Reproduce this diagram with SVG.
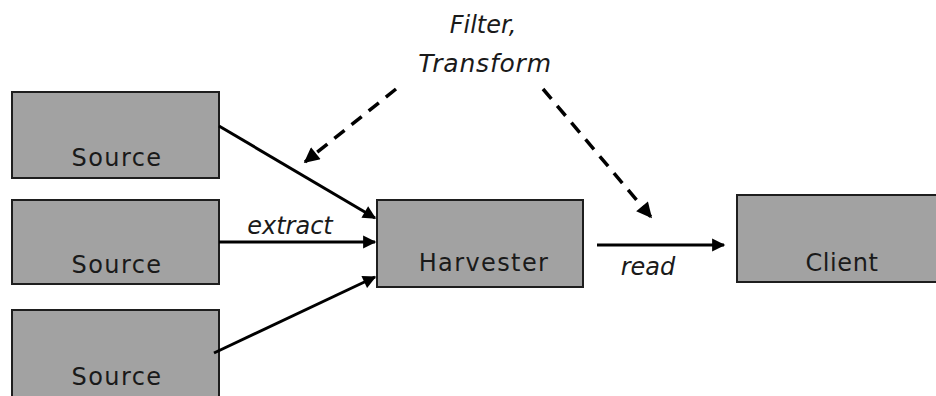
<svg xmlns="http://www.w3.org/2000/svg" width="936" height="396" viewBox="0 0 936 396">
  <style>
    .box { fill: #a2a2a2; stroke: #1e1e1e; stroke-width: 2; }
    .label { font-family: "DejaVu Sans", "Liberation Sans", sans-serif; font-size: 24px; letter-spacing: 1.4px; fill: #1a1a1a; text-anchor: middle; }
    .note { font-family: "DejaVu Sans", "Liberation Sans", sans-serif; font-size: 24px; font-style: italic; fill: #1a1a1a; text-anchor: middle; }
    .flow { stroke: #000; stroke-width: 3; fill: none; marker-end: url(#head); }
    .dash { stroke: #000; stroke-width: 3.5; fill: none; stroke-dasharray: 13 9; marker-end: url(#head); }
  </style>
  <defs>
    <marker id="head" viewBox="0 0 10 10" refX="9" refY="5" markerWidth="5" markerHeight="4.4" orient="auto" markerUnits="strokeWidth">
      <path d="M0,0 L10,5 L0,10 z" fill="#000"/>
    </marker>
  </defs>
  <rect width="936" height="396" fill="#fff"/>

  <g id="source1">
    <rect class="box" x="12" y="92" width="207" height="86"/>
    <text class="label" x="117" y="166">Source</text>
  </g>
  <g id="source2">
    <rect class="box" x="12" y="200" width="207" height="84"/>
    <text class="label" x="117" y="273">Source</text>
  </g>
  <g id="source3">
    <rect class="box" x="12" y="310" width="207" height="92"/>
    <text class="label" x="117" y="385">Source</text>
  </g>
  <g id="harvester">
    <rect class="box" x="377" y="200" width="206" height="87"/>
    <text class="label" x="484" y="271">Harvester</text>
  </g>
  <g id="client">
    <rect class="box" x="737" y="195" width="203" height="87"/>
    <text class="label" x="842" y="271" style="letter-spacing:0.6px">Client</text>
  </g>
  <g id="transform-note">
    <text class="note" x="483" y="33">Filter,</text>
    <text class="note" x="485" y="72" style="font-size:25px;letter-spacing:0.8px">Transform</text>
  </g>

  <g id="connectors">
    <line class="flow" x1="219" y1="126" x2="375" y2="218"/>
    <line class="flow" x1="219" y1="242" x2="375" y2="242"/>
    <line class="flow" x1="214" y1="353" x2="375" y2="277"/>
    <line class="flow" x1="597" y1="245" x2="724" y2="245"/>
    <line class="dash" x1="396" y1="89" x2="305" y2="162"/>
    <line class="dash" x1="543" y1="89" x2="651" y2="217"/>
    <text class="note" x="290" y="234">extract</text>
    <text class="note" x="648" y="275">read</text>
  </g>
</svg>
